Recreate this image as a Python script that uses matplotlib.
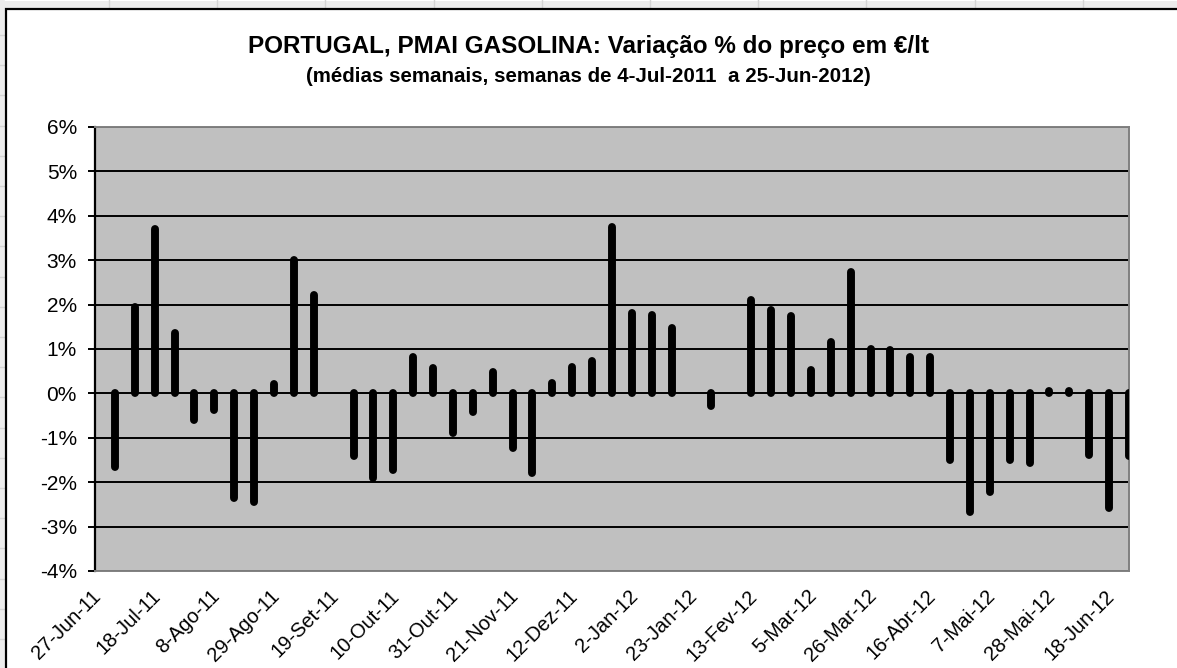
import numpy as np
import pandas as pd
import matplotlib
matplotlib.use("Agg")
import matplotlib.pyplot as plt
import matplotlib.transforms as mtransforms
from matplotlib.patches import Rectangle
from matplotlib.lines import Line2D

plt.rcParams['font.family'] = ['Liberation Sans', 'DejaVu Sans']

# semanas (segundas-feiras) de 4-Jul-2011 a 25-Jun-2012
semanas = pd.date_range("2011-07-04", "2012-06-25", freq="7D")

# variação % semanal do PMAI da gasolina (nan = sem dados)
variacao = [-1.65, 1.95, 3.71, 1.37, -0.60, -0.37, -2.36, -2.44, 0.22, 3.00,
            2.21, np.nan, -1.42, -1.91, -1.72, 0.82, 0.58, -0.90, -0.43, 0.48,
            -1.23, -1.80, 0.23, 0.59, 0.72, 3.75, 1.80, 1.76, 1.47, np.nan,
            -0.28, np.nan, 2.11, 1.87, 1.74, 0.52, 1.16, 2.73, 1.01, 0.97,
            0.83, 0.83, -1.50, -2.66, -2.23, -1.51, -1.56, 0.06, 0.06, -1.38,
            -2.59, -1.41]

# eixo das datas: uma etiqueta de 3 em 3 semanas
datas_eixo = pd.date_range("2011-06-27", periods=18, freq="21D")
etiquetas = ["27-Jun-11", "18-Jul-11", "8-Ago-11", "29-Ago-11", "19-Set-11",
             "10-Out-11", "31-Out-11", "21-Nov-11", "12-Dez-11", "2-Jan-12",
             "23-Jan-12", "13-Fev-12", "5-Mar-12", "26-Mar-12", "16-Abr-12",
             "7-Mai-12", "28-Mai-12", "18-Jun-12"]

y_ticks = np.arange(-4, 7, 1)

fig = plt.figure(figsize=(11.77, 6.68), dpi=100)

# grelha da folha de calculo por tras do grafico
W, H = 1177, 668
fig.add_artist(Line2D([0, 1], [1 - 4 / H, 1 - 4 / H], color="#ececec", lw=5, zorder=0.1))
fig.add_artist(Line2D([2 / W, 2 / W], [0, 1], color="#ececec", lw=4, zorder=0.1))
for x in np.arange(109, W, 108.2):
    fig.add_artist(Line2D([x / W, x / W], [1 - 0 / H, 1 - 9 / H],
                          color="#d4d4d4", lw=1.0, zorder=0.2))
for y in np.arange(35, H, 30.2):
    fig.add_artist(Line2D([0, 5 / W], [1 - y / H, 1 - y / H],
                          color="#d4d4d4", lw=1.0, zorder=0.2))
# moldura do grafico
fig.add_artist(Rectangle((6 / W, -0.1), 1.2, 1 - 9.5 / H + 0.1,
                         fill=True, facecolor="white", edgecolor="black",
                         lw=1.6, zorder=0.5))

ax = fig.add_axes([95 / W, 1 - 571 / H, (1129 - 95) / W, (571 - 127) / H])
ax.set_facecolor("#c0c0c0")
ax.set_zorder(2)

for yt in y_ticks:
    ax.axhline(yt, color="black", lw=1.4, zorder=1)

linhas = ax.vlines(semanas, 0, variacao, color="black", lw=5.7, zorder=3)
linhas.set_capstyle("round")

ax.set_xlim(pd.Timestamp("2011-06-27"), pd.Timestamp("2012-06-25"))
ax.set_ylim(-4, 6)

ax.set_yticks(y_ticks)
ax.set_yticklabels([f"{v}%" for v in y_ticks], fontsize=15)
ax.tick_params(axis="y", length=5, width=1.4, direction="out", pad=8)

ax.set_xticks(datas_eixo)
ax.set_xticklabels(etiquetas, fontsize=14.5, rotation=45, ha="right",
                   va="top", rotation_mode="anchor")
ax.tick_params(axis="x", length=0, pad=11)
desvio = mtransforms.ScaledTranslation(-4 / 100, 0, fig.dpi_scale_trans)
for lab in ax.get_xticklabels():
    lab.set_transform(lab.get_transform() + desvio)

for s in ["top", "right", "bottom"]:
    ax.spines[s].set_color("#808080")
    ax.spines[s].set_linewidth(1.4)
ax.spines["left"].set_color("black")
ax.spines["left"].set_linewidth(1.6)

fig.text(0.5, 1 - 47 / H, "PORTUGAL, PMAI GASOLINA: Variação % do preço em €/lt",
         ha="center", va="center", fontsize=17.5, fontweight="bold")
fig.text(0.5, 1 - 76 / H, "(médias semanais, semanas de 4-Jul-2011  a 25-Jun-2012)",
         ha="center", va="center", fontsize=14.8, fontweight="bold")

fig.savefig("out.png", dpi=100)
